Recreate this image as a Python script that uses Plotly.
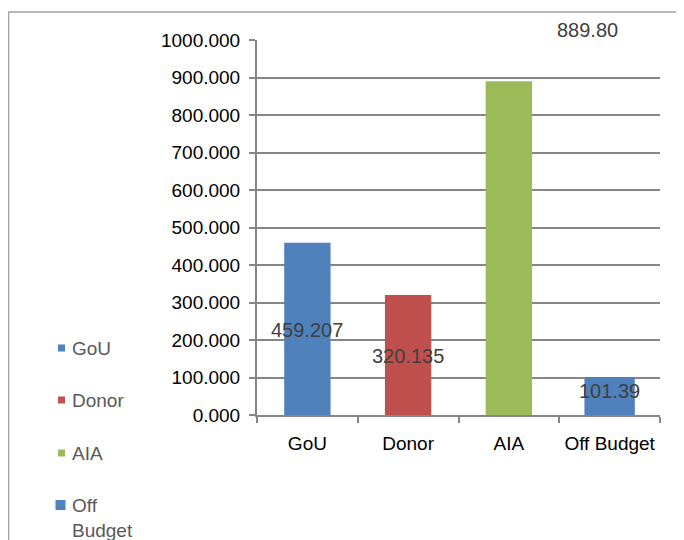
import plotly.graph_objects as go

categories = ["GoU", "Donor", "AIA", "Off Budget"]
legend_names = ["GoU", "Donor", "AIA", "Off<br>Budget"]
values = [459.207, 320.135, 889.80, 101.39]
label_texts = ["459.207", "320.135", "889.80", "101.39"]
colors = ["#4F81BD", "#C0504D", "#9BBB59", "#4F81BD"]
# label anchor positions (as drawn in the original, manually placed)
label_x = [0, 1, 2.78, 3]
label_y = [227, 157, 1027, 64]
yticks = [0, 100, 200, 300, 400, 500, 600, 700, 800, 900, 1000]
YMAX = 1000

FONT = "Liberation Sans"
OFF = 8  # page body margin
W, H = 684 - OFF, 540 - OFF
# plot area in screen pixels: x 257..660, y 40..415
ML, MR, MT, MB = 257 - OFF, 684 - 660, 40 - OFF, 540 - 415
PW, PH = W - ML - MR, H - MT - MB


def px_x(sx):
    return (sx - OFF - ML) / PW


def px_y(sy):
    return (H - MB - (sy - OFF)) / PH


fig = go.Figure()
for i, cat in enumerate(categories):
    fig.add_trace(go.Bar(
        x=[cat], y=[values[i]], name=legend_names[i],
        marker=dict(color=colors[i], line=dict(width=0)),
        width=0.46 if i < 3 else 0.5,
        showlegend=False,
    ))

for i in range(len(categories)):
    fig.add_annotation(
        x=label_x[i], y=label_y[i] / YMAX, text=label_texts[i], showarrow=False,
        xanchor="center", yanchor="middle",
        font=dict(family=FONT, size=20, color="#404040"),
        xref="x", yref="paper",
    )

# legend (drawn manually so it can run off the bottom edge like the original)
legend_y = [348, 400, 453, 505]
legend_sq = [7, 7, 7, 10]
for i, name in enumerate(legend_names):
    s = legend_sq[i]
    cx = 61.5 if i < 3 else 60.5
    fig.add_shape(type="rect", xref="paper", yref="paper",
                  x0=px_x(cx - s / 2), x1=px_x(cx + s / 2),
                  y0=px_y(legend_y[i] + s / 2), y1=px_y(legend_y[i] - s / 2),
                  fillcolor=colors[i], line=dict(width=0))
    fig.add_annotation(x=px_x(70), y=px_y(legend_y[i] - 12), xref="paper", yref="paper",
                       xanchor="left", yanchor="top", align="left",
                       text=name, showarrow=False,
                       font=dict(family=FONT, size=19, color="#595959"))

fig.update_layout(
    width=W, height=H,
    margin=dict(l=ML, r=MR, t=MT, b=MB, autoexpand=False),
    paper_bgcolor="white", plot_bgcolor="white",
    barmode="overlay",
    showlegend=False,
    xaxis=dict(
        categoryorder="array", categoryarray=categories,
        showline=True, linecolor="#868686", linewidth=2,
        ticks="outside", tickson="boundaries", ticklen=6, tickcolor="#868686", tickwidth=2,
        tickfont=dict(family=FONT, size=19, color="#000000"),
        tickangle=0,
        ticklabelstandoff=10,
        showgrid=False,
    ),
    yaxis=dict(
        range=[0, YMAX],
        tickvals=yticks, ticktext=[f"{v:.3f}" for v in yticks],
        showline=True, linecolor="#868686", linewidth=2,
        ticks="outside", ticklen=6, tickcolor="#868686", tickwidth=2,
        tickfont=dict(family=FONT, size=19, color="#000000"),
        ticklabelstandoff=5,
        showgrid=True, gridcolor="#868686", gridwidth=2,
        zeroline=False,
    ),
)

# outer chart-area border (top and left edges visible)
fig.add_shape(type="line", xref="paper", yref="paper",
              x0=px_x(8.5), x1=px_x(700), y0=px_y(12), y1=px_y(12),
              line=dict(color="#A0A0A0", width=1.5))
fig.add_shape(type="line", xref="paper", yref="paper",
              x0=px_x(8.5), x1=px_x(8.5), y0=px_y(12), y1=px_y(560),
              line=dict(color="#A0A0A0", width=1.5))

fig.write_html("out.html")
